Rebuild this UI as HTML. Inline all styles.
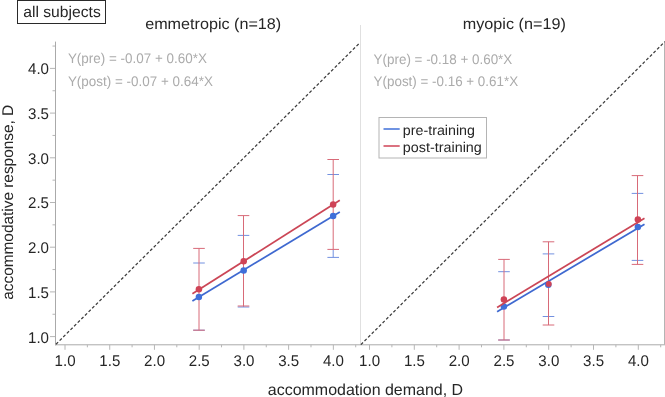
<!DOCTYPE html>
<html><head><meta charset="utf-8"><title>chart</title>
<style>html,body{margin:0;padding:0;background:#fff;overflow:hidden}body{width:665px;height:397px;position:relative;font-family:"Liberation Sans",sans-serif}</style>
</head><body>
<svg width="665" height="397" viewBox="0 0 665 397" style="position:absolute;left:0;top:0;will-change:transform;text-rendering:geometricPrecision" font-family="'Liberation Sans', sans-serif">
<rect x="0" y="0" width="665" height="397" fill="#fff"/>
<rect x="17.5" y="0.5" width="88" height="23" fill="#fff" stroke="#2a2a2a" stroke-width="1"/>
<text x="23.2" y="17.2" font-size="15.5" fill="#262626" textLength="77.6" lengthAdjust="spacingAndGlyphs">all subjects</text>
<text x="145.2" y="29.3" font-size="15.5" fill="#262626" textLength="136" lengthAdjust="spacingAndGlyphs">emmetropic (n=18)</text>
<text x="462.8" y="29.3" font-size="15.5" fill="#262626" textLength="103" lengthAdjust="spacingAndGlyphs">myopic (n=19)</text>
<line x1="360.5" y1="25" x2="360.5" y2="345" stroke="#e0e0e0" stroke-width="1"/>
<line x1="55.5" y1="41.6" x2="55.5" y2="345.3" stroke="#aaaaaa" stroke-width="1"/>
<line x1="55" y1="344.8" x2="665" y2="344.8" stroke="#aaaaaa" stroke-width="1"/>
<line x1="664.5" y1="41.6" x2="664.5" y2="344.8" stroke="#b4b4b4" stroke-width="1"/>
<line x1="50" y1="336.60" x2="55" y2="336.60" stroke="#b6b6b6" stroke-width="1"/>
<text x="49" y="342.50" font-size="15.5" fill="#262626" text-anchor="end" textLength="21" lengthAdjust="spacingAndGlyphs">1.0</text>
<line x1="52.5" y1="314.25" x2="55" y2="314.25" stroke="#b6b6b6" stroke-width="1"/>
<line x1="50" y1="291.90" x2="55" y2="291.90" stroke="#b6b6b6" stroke-width="1"/>
<text x="49" y="297.80" font-size="15.5" fill="#262626" text-anchor="end" textLength="21" lengthAdjust="spacingAndGlyphs">1.5</text>
<line x1="52.5" y1="269.55" x2="55" y2="269.55" stroke="#b6b6b6" stroke-width="1"/>
<line x1="50" y1="247.20" x2="55" y2="247.20" stroke="#b6b6b6" stroke-width="1"/>
<text x="49" y="253.10" font-size="15.5" fill="#262626" text-anchor="end" textLength="21" lengthAdjust="spacingAndGlyphs">2.0</text>
<line x1="52.5" y1="224.85" x2="55" y2="224.85" stroke="#b6b6b6" stroke-width="1"/>
<line x1="50" y1="202.50" x2="55" y2="202.50" stroke="#b6b6b6" stroke-width="1"/>
<text x="49" y="208.40" font-size="15.5" fill="#262626" text-anchor="end" textLength="21" lengthAdjust="spacingAndGlyphs">2.5</text>
<line x1="52.5" y1="180.15" x2="55" y2="180.15" stroke="#b6b6b6" stroke-width="1"/>
<line x1="50" y1="157.80" x2="55" y2="157.80" stroke="#b6b6b6" stroke-width="1"/>
<text x="49" y="163.70" font-size="15.5" fill="#262626" text-anchor="end" textLength="21" lengthAdjust="spacingAndGlyphs">3.0</text>
<line x1="52.5" y1="135.45" x2="55" y2="135.45" stroke="#b6b6b6" stroke-width="1"/>
<line x1="50" y1="113.10" x2="55" y2="113.10" stroke="#b6b6b6" stroke-width="1"/>
<text x="49" y="119.00" font-size="15.5" fill="#262626" text-anchor="end" textLength="21" lengthAdjust="spacingAndGlyphs">3.5</text>
<line x1="52.5" y1="90.75" x2="55" y2="90.75" stroke="#b6b6b6" stroke-width="1"/>
<line x1="50" y1="68.40" x2="55" y2="68.40" stroke="#b6b6b6" stroke-width="1"/>
<text x="49" y="74.30" font-size="15.5" fill="#262626" text-anchor="end" textLength="21" lengthAdjust="spacingAndGlyphs">4.0</text>
<line x1="52.5" y1="46.05" x2="55" y2="46.05" stroke="#b6b6b6" stroke-width="1"/>
<line x1="65.00" y1="344.8" x2="65.00" y2="349.8" stroke="#b6b6b6" stroke-width="1"/>
<text x="54.60" y="366.1" font-size="15.5" fill="#262626" textLength="21" lengthAdjust="spacingAndGlyphs">1.0</text>
<line x1="87.36" y1="344.8" x2="87.36" y2="347.3" stroke="#b6b6b6" stroke-width="1"/>
<line x1="109.72" y1="344.8" x2="109.72" y2="349.8" stroke="#b6b6b6" stroke-width="1"/>
<text x="99.32" y="366.1" font-size="15.5" fill="#262626" textLength="21" lengthAdjust="spacingAndGlyphs">1.5</text>
<line x1="132.09" y1="344.8" x2="132.09" y2="347.3" stroke="#b6b6b6" stroke-width="1"/>
<line x1="154.45" y1="344.8" x2="154.45" y2="349.8" stroke="#b6b6b6" stroke-width="1"/>
<text x="144.05" y="366.1" font-size="15.5" fill="#262626" textLength="21" lengthAdjust="spacingAndGlyphs">2.0</text>
<line x1="176.81" y1="344.8" x2="176.81" y2="347.3" stroke="#b6b6b6" stroke-width="1"/>
<line x1="199.18" y1="344.8" x2="199.18" y2="349.8" stroke="#b6b6b6" stroke-width="1"/>
<text x="188.78" y="366.1" font-size="15.5" fill="#262626" textLength="21" lengthAdjust="spacingAndGlyphs">2.5</text>
<line x1="221.54" y1="344.8" x2="221.54" y2="347.3" stroke="#b6b6b6" stroke-width="1"/>
<line x1="243.90" y1="344.8" x2="243.90" y2="349.8" stroke="#b6b6b6" stroke-width="1"/>
<text x="233.50" y="366.1" font-size="15.5" fill="#262626" textLength="21" lengthAdjust="spacingAndGlyphs">3.0</text>
<line x1="266.26" y1="344.8" x2="266.26" y2="347.3" stroke="#b6b6b6" stroke-width="1"/>
<line x1="288.62" y1="344.8" x2="288.62" y2="349.8" stroke="#b6b6b6" stroke-width="1"/>
<text x="278.23" y="366.1" font-size="15.5" fill="#262626" textLength="21" lengthAdjust="spacingAndGlyphs">3.5</text>
<line x1="310.99" y1="344.8" x2="310.99" y2="347.3" stroke="#b6b6b6" stroke-width="1"/>
<line x1="333.35" y1="344.8" x2="333.35" y2="349.8" stroke="#b6b6b6" stroke-width="1"/>
<text x="322.95" y="366.1" font-size="15.5" fill="#262626" textLength="21" lengthAdjust="spacingAndGlyphs">4.0</text>
<line x1="355.71" y1="344.8" x2="355.71" y2="347.3" stroke="#b6b6b6" stroke-width="1"/>
<line x1="369.50" y1="344.8" x2="369.50" y2="349.8" stroke="#b6b6b6" stroke-width="1"/>
<text x="359.10" y="366.1" font-size="15.5" fill="#262626" textLength="21" lengthAdjust="spacingAndGlyphs">1.0</text>
<line x1="391.90" y1="344.8" x2="391.90" y2="347.3" stroke="#b6b6b6" stroke-width="1"/>
<line x1="414.30" y1="344.8" x2="414.30" y2="349.8" stroke="#b6b6b6" stroke-width="1"/>
<text x="403.90" y="366.1" font-size="15.5" fill="#262626" textLength="21" lengthAdjust="spacingAndGlyphs">1.5</text>
<line x1="436.70" y1="344.8" x2="436.70" y2="347.3" stroke="#b6b6b6" stroke-width="1"/>
<line x1="459.10" y1="344.8" x2="459.10" y2="349.8" stroke="#b6b6b6" stroke-width="1"/>
<text x="448.70" y="366.1" font-size="15.5" fill="#262626" textLength="21" lengthAdjust="spacingAndGlyphs">2.0</text>
<line x1="481.50" y1="344.8" x2="481.50" y2="347.3" stroke="#b6b6b6" stroke-width="1"/>
<line x1="503.90" y1="344.8" x2="503.90" y2="349.8" stroke="#b6b6b6" stroke-width="1"/>
<text x="493.50" y="366.1" font-size="15.5" fill="#262626" textLength="21" lengthAdjust="spacingAndGlyphs">2.5</text>
<line x1="526.30" y1="344.8" x2="526.30" y2="347.3" stroke="#b6b6b6" stroke-width="1"/>
<line x1="548.70" y1="344.8" x2="548.70" y2="349.8" stroke="#b6b6b6" stroke-width="1"/>
<text x="538.30" y="366.1" font-size="15.5" fill="#262626" textLength="21" lengthAdjust="spacingAndGlyphs">3.0</text>
<line x1="571.10" y1="344.8" x2="571.10" y2="347.3" stroke="#b6b6b6" stroke-width="1"/>
<line x1="593.50" y1="344.8" x2="593.50" y2="349.8" stroke="#b6b6b6" stroke-width="1"/>
<text x="583.10" y="366.1" font-size="15.5" fill="#262626" textLength="21" lengthAdjust="spacingAndGlyphs">3.5</text>
<line x1="615.90" y1="344.8" x2="615.90" y2="347.3" stroke="#b6b6b6" stroke-width="1"/>
<line x1="638.30" y1="344.8" x2="638.30" y2="349.8" stroke="#b6b6b6" stroke-width="1"/>
<text x="627.90" y="366.1" font-size="15.5" fill="#262626" textLength="21" lengthAdjust="spacingAndGlyphs">4.0</text>
<line x1="660.70" y1="344.8" x2="660.70" y2="347.3" stroke="#b6b6b6" stroke-width="1"/>
<text x="267.8" y="394.5" font-size="16" fill="#262626" textLength="195.3" lengthAdjust="spacingAndGlyphs">accommodation demand, D</text>
<text transform="translate(12.5,299.8) rotate(-90)" font-size="15.5" fill="#262626" textLength="195" lengthAdjust="spacingAndGlyphs">accommodative response, D</text>
<line x1="56.0" y1="344.2" x2="360.0" y2="42.6" stroke="#3c3c3c" stroke-width="1.25" stroke-dasharray="3 2.1"/>
<line x1="360.9" y1="344.6" x2="664.9" y2="41.6" stroke="#3c3c3c" stroke-width="1.25" stroke-dasharray="3 2.1"/>
<text x="67.9" y="63.4" font-size="14" fill="#ababab" textLength="139" lengthAdjust="spacingAndGlyphs">Y(pre) = -0.07 + 0.60*X</text>
<text x="67.9" y="85.9" font-size="14" fill="#ababab" textLength="145" lengthAdjust="spacingAndGlyphs">Y(post) = -0.07 + 0.64*X</text>
<text x="373.6" y="63.5" font-size="14" fill="#ababab" textLength="138.7" lengthAdjust="spacingAndGlyphs">Y(pre) = -0.18 + 0.60*X</text>
<text x="373.6" y="86.2" font-size="14" fill="#ababab" textLength="144.5" lengthAdjust="spacingAndGlyphs">Y(post) = -0.16 + 0.61*X</text>
<rect x="379" y="117.5" width="107.5" height="40.5" fill="#fff" stroke="#b4b4b4" stroke-width="1"/>
<line x1="383.5" y1="129" x2="399.7" y2="129" stroke="#3f6fd9" stroke-width="1.5"/>
<line x1="383.5" y1="146" x2="399.7" y2="146" stroke="#cf4356" stroke-width="1.5"/>
<text x="402.8" y="135.1" font-size="14" fill="#262626" textLength="72.2" lengthAdjust="spacingAndGlyphs">pre-training</text>
<text x="402.8" y="151.7" font-size="14" fill="#262626" textLength="79" lengthAdjust="spacingAndGlyphs">post-training</text>
<path d="M193.20 330.20h11.6M193.20 263.00h11.6" stroke="#7391e0" stroke-width="1" fill="none"/>
<path d="M243.50 307.00V306.00M237.70 307.00h11.6M237.70 235.40h11.6" stroke="#7391e0" stroke-width="1" fill="none"/>
<path d="M333.20 257.40V249.40M327.40 257.40h11.6M327.40 174.50h11.6" stroke="#7391e0" stroke-width="1" fill="none"/>
<path d="M199.00 330.20V248.40M193.20 330.20h11.6M193.20 248.40h11.6" stroke="#d86a78" stroke-width="1" fill="none"/>
<path d="M243.50 306.00V215.60M237.70 306.00h11.6M237.70 215.60h11.6" stroke="#d86a78" stroke-width="1" fill="none"/>
<path d="M333.20 249.40V159.50M327.40 249.40h11.6M327.40 159.50h11.6" stroke="#d86a78" stroke-width="1" fill="none"/>
<line x1="192.40" y1="300.90" x2="339.80" y2="212.10" stroke="#3f69d0" stroke-width="1.75"/>
<circle cx="198.90" cy="296.90" r="3.25" fill="#3f6fd9"/>
<circle cx="243.70" cy="270.40" r="3.25" fill="#3f6fd9"/>
<circle cx="333.15" cy="215.90" r="3.25" fill="#3f6fd9"/>
<line x1="192.40" y1="293.70" x2="339.80" y2="200.30" stroke="#cb4656" stroke-width="1.75"/>
<circle cx="198.90" cy="289.30" r="3.25" fill="#cf4356"/>
<circle cx="243.70" cy="261.30" r="3.25" fill="#cf4356"/>
<circle cx="333.15" cy="204.40" r="3.25" fill="#cf4356"/>
<path d="M498.20 340.00h11.6M498.20 271.70h11.6" stroke="#7391e0" stroke-width="1" fill="none"/>
<path d="M542.70 316.50h11.6M542.70 253.90h11.6" stroke="#7391e0" stroke-width="1" fill="none"/>
<path d="M631.70 260.40h11.6M631.70 193.40h11.6" stroke="#7391e0" stroke-width="1" fill="none"/>
<path d="M504.00 340.00V259.40M498.20 340.00h11.6M498.20 259.40h11.6" stroke="#d86a78" stroke-width="1" fill="none"/>
<path d="M548.50 325.00V241.80M542.70 325.00h11.6M542.70 241.80h11.6" stroke="#d86a78" stroke-width="1" fill="none"/>
<path d="M637.50 264.40V175.60M631.70 264.40h11.6M631.70 175.60h11.6" stroke="#d86a78" stroke-width="1" fill="none"/>
<line x1="497.10" y1="311.70" x2="644.50" y2="224.20" stroke="#3f69d0" stroke-width="1.75"/>
<circle cx="503.90" cy="306.40" r="3.25" fill="#3f6fd9"/>
<circle cx="548.30" cy="284.80" r="3.25" fill="#3f6fd9"/>
<circle cx="637.85" cy="227.00" r="3.25" fill="#3f6fd9"/>
<line x1="497.10" y1="307.40" x2="644.50" y2="218.30" stroke="#cb4656" stroke-width="1.75"/>
<circle cx="503.90" cy="299.60" r="3.25" fill="#cf4356"/>
<circle cx="637.85" cy="219.60" r="3.25" fill="#cf4356"/>
<circle cx="548.80" cy="283.90" r="2.9" fill="#cf4356"/>
</svg>
</body></html>
